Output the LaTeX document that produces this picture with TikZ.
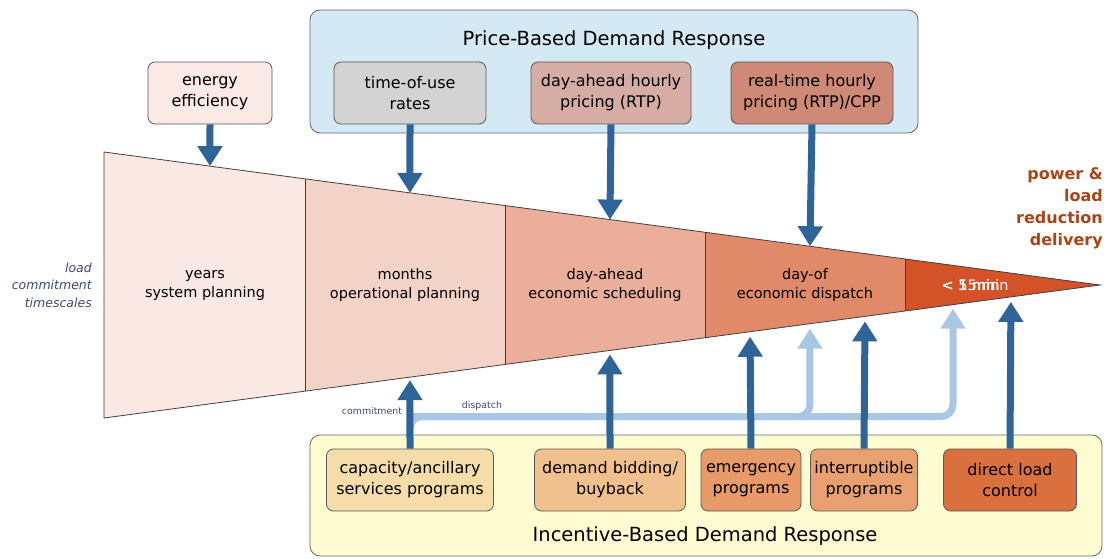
\documentclass[tikz,border=0pt]{standalone}
\usepackage{fontspec}
\setmainfont{DejaVu Sans}
\usepackage{xcolor}
\usetikzlibrary{arrows.meta, calc, positioning}
\definecolor{drblue}{RGB}{46,100,152}
\definecolor{drlight}{RGB}{167,199,227}
\definecolor{pricebg}{RGB}{213,233,244}
\definecolor{incbg}{RGB}{254,252,208}
\definecolor{effcol}{RGB}{250,233,228}
\definecolor{toucol}{RGB}{211,211,211}
\definecolor{dahcol}{RGB}{213,173,165}
\definecolor{rtcol}{RGB}{206,138,118}
\definecolor{capcol}{RGB}{245,221,170}
\definecolor{bidcol}{RGB}{240,193,143}
\definecolor{emgcol}{RGB}{232,155,104}
\definecolor{intcol}{RGB}{233,160,112}
\definecolor{dlccol}{RGB}{218,112,62}
\definecolor{segA}{RGB}{249,232,227}
\definecolor{segB}{RGB}{243,210,199}
\definecolor{segC}{RGB}{234,174,154}
\definecolor{segD}{RGB}{224,138,106}
\definecolor{segE}{RGB}{212,82,40}
\definecolor{delivcol}{RGB}{168,68,22}
\definecolor{slatecol}{RGB}{59,74,107}

\begin{document}
\begin{tikzpicture}[x=1pt, y=-1pt,
    prog/.style={draw=black!65, thick, rounded corners=7pt, align=center, minimum height=62pt, inner sep=1pt, font=\fontsize{16}{21}\selectfont},
    stage/.style={align=center, font=\fontsize{14.5}{19}\selectfont},
    group/.style={draw=black!60, thick, rounded corners=10pt},
    grouptitle/.style={font=\fontsize{19.5}{23}\selectfont},
    dark/.style={line width=7pt, drblue, -{Triangle[length=20pt, width=24pt]}},
    light/.style={line width=7pt, drlight, -{Triangle[length=20pt, width=24pt]}, rounded corners=12pt},
    tag/.style={font=\fontsize{9.4}{11}\selectfont}]
    \useasboundingbox (0,0) rectangle (1104,559);

    % Group boxes
    \draw[group, fill=pricebg] (310,10) rectangle (918,133);
    \node[grouptitle] (pbdr) at (614,40) {Price-Based Demand Response};
    \draw[group, fill=incbg] (310,435) rectangle (1102,556);
    \node[grouptitle] (ibdr) at (705,536) {Incentive-Based Demand Response};

    % Funnel
    \coordinate (fTL) at (104,152);
    \coordinate (fBL) at (104,418);
    \coordinate (fTip) at (1100,285);
    \foreach \xa/\xb/\col in {104/305/segA, 305/505/segB, 505/705/segC, 705/905/segD, 905/1100/segE} {
        \pgfmathsetmacro\pa{(\xa-104)/996}
        \pgfmathsetmacro\pb{(\xb-104)/996}
        \fill[\col] ($(fTL)!\pa!(fTip)$) -- ($(fTL)!\pb!(fTip)$) -- ($(fBL)!\pb!(fTip)$) -- ($(fBL)!\pa!(fTip)$) -- cycle;
    }
    \foreach \xd in {305,505,705,905} {
        \pgfmathsetmacro\pd{(\xd-104)/996}
        \draw[black!75, line width=0.8pt] ($(fTL)!\pd!(fTip)$) -- ($(fBL)!\pd!(fTip)$);
    }
    \draw[black!75, line width=0.8pt] (fTL) -- (fTip) -- (fBL) -- cycle;

    % Funnel edge points
    \path (fTL) -- (fTip) coordinate[pos=0.1064] (t1) coordinate[pos=0.3072] (t2)
        coordinate[pos=0.5080] (t3) coordinate[pos=0.7088] (t4);
    \path (fBL) -- (fTip) coordinate[pos=0.3072] (b1) coordinate[pos=0.5080] (b2)
        coordinate[pos=0.6486] (b3) coordinate[pos=0.7641] (b4) coordinate[pos=0.7088] (b5)
        coordinate[pos=0.8524] (b6) coordinate[pos=0.9106] (b7);

    % Stages
    \node[stage] (years) at (205,285) {years\\system planning};
    \node[stage] (months) at (405,285) {months\\operational planning};
    \node[stage] (dayahead) at (605,285) {day-ahead\\economic scheduling};
    \node[stage] (dayof) at (805,285) {day-of\\economic dispatch};
    \node[stage, white, anchor=west] (short) at (938,285) {\rlap{< 15 min}\rlap{< 5 min}< 1 min};

    % Side labels
    \node[align=right, anchor=east, inner sep=0pt, text=slatecol, font=\itshape\fontsize{12.5}{17.5}\selectfont] (lct) at (92,285) {load\\commitment\\timescales};
    \node[align=right, anchor=east, inner sep=0pt, text=delivcol, font=\bfseries\fontsize{16}{22}\selectfont] (deliv) at (1103,208) {power \&\\load\\reduction\\delivery};

    % Price-based programs
    \node[prog, fill=effcol, minimum width=124pt] (eff) at (210,93) {energy\\efficiency};
    \node[prog, fill=toucol, minimum width=152pt] (tou) at (410,93) {time-of-use\\rates};
    \node[prog, fill=dahcol, minimum width=160pt] (dah) at (611,93) {day-ahead hourly\\pricing (RTP)};
    \node[prog, fill=rtcol, minimum width=162pt] (rt) at (812,93) {real-time hourly\\pricing (RTP)/CPP};

    % Incentive-based programs
    \node[prog, fill=capcol, minimum width=167pt] (cap) at (410,480) {capacity/ancillary\\services programs};
    \node[prog, fill=bidcol, minimum width=151pt] (bid) at (610,480) {demand bidding/\\buyback};
    \node[prog, fill=emgcol, minimum width=100pt] (emg) at (751,480) {emergency\\programs};
    \node[prog, fill=intcol, minimum width=107pt] (intr) at (864,480) {interruptible\\programs};
    \node[prog, fill=dlccol, minimum width=133pt] (dlc) at (1010,480) {direct load\\control};

    % Dispatch paths
    \coordinate (dsp) at ($(cap.north)+(0,-32)$);
    \draw[light, shorten >=4pt] ($(cap.north)+(0,-12)$) |- (dsp -| b6) -- (b6);
    \draw[light, shorten >=5pt] (dsp) -| (b5);
    \node[tag, text=slatecol] (lcom) at (372,411) {commitment};
    \node[tag, text=slatecol] (ldsp) at (482,406) {dispatch};

    % Arrows down
    \draw[dark] (eff.south) -- (t1);
    \draw[dark] (tou.south) -- (t2);
    \draw[dark] (dah.south) -- (t3);
    \draw[dark] (rt.south) -- (t4);

    % Arrows up
    \draw[dark, shorten >=3pt] (cap.north) -- (b1);
    \draw[dark, shorten >=4pt] (bid.north) -- (b2);
    \draw[dark, shorten >=5pt] (emg.north) -- (b3);
    \draw[dark, shorten >=5pt] (intr.north) -- (b4);
    \draw[dark, shorten >=5pt] (dlc.north) -- (b7);
\end{tikzpicture}
\end{document}
